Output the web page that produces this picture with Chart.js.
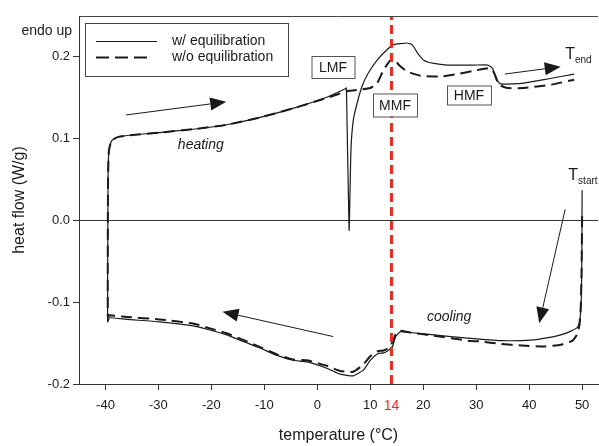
<!DOCTYPE html>
<html>
<head>
<meta charset="utf-8">
<script src="https://cdn.jsdelivr.net/npm/chart.js@4.4.0/dist/chart.umd.min.js"></script>
<style>
  html, body { margin:0; padding:0; background:#fff; }
  #wrap { width:599px; height:446px; }
</style>
</head>
<body>
<div id="wrap"><canvas id="dsc"></canvas></div>
<script>
'use strict';

// ── Data: DSC loop, cooling from T_start then heating to T_end ──────
const tempWith = [
  50.0, 49.95, 49.85, 49.6, 49.2, 48.0, 46.0, 44.7, 40.9, 34.6, 28.4, 22.0, 17.5, 15.7,
  14.8, 14.2, 13.4, 12.5, 11.4, 10.0, 8.7, 6.8, 4.3, 1.9, -1.9, -4.6, -7.6, -10.8,
  -14.0, -17.1, -20.3, -23.5, -29.8, -36.0, -39.2, -39.6,
  -39.55, -39.5, -39.35, -39.0, -38.6, -37.4, -34.9, -29.8, -23.5, -17.1, -10.8, -4.6,
  1.9, 5.3, 5.5, 6.0, 6.35, 6.8, 7.5, 8.45, 9.6, 11.3, 13.2, 14.4, 17.0, 17.9, 18.9,
  20.1, 22.0, 24.6, 29.5, 32.2, 33.1, 33.7, 34.6, 39.0, 43.5, 48.5
];
const flowWith = [
  0.037, -0.040, -0.095, -0.120, -0.130, -0.135, -0.140, -0.142, -0.146, -0.147, -0.144, -0.140, -0.137, -0.136,
  -0.142, -0.154, -0.159, -0.162, -0.163, -0.171, -0.183, -0.190, -0.188, -0.181, -0.173, -0.171, -0.165, -0.156,
  -0.148, -0.140, -0.134, -0.129, -0.124, -0.121, -0.119, -0.124,
  0.000, 0.060, 0.085, 0.095, 0.099, 0.1025, 0.1045, 0.1075, 0.1115, 0.117, 0.126, 0.137,
  0.151, 0.161, 0.162, -0.012, 0.086, 0.123, 0.143, 0.164, 0.180, 0.196, 0.209, 0.215, 0.217, 0.215, 0.205,
  0.196, 0.192, 0.190, 0.190, 0.190, 0.186, 0.174, 0.167, 0.168, 0.173, 0.179
];

const tempWithout = [
  50.0, 49.9, 49.75, 49.5, 49.0, 48.2, 46.0, 42.9, 38.6, 34.6, 30.8, 28.4, 22.0, 17.5, 15.7,
  14.8, 14.2, 13.4, 12.5, 11.4, 10.0, 8.7, 6.8, 4.3, 1.9, -1.9, -4.6, -7.6, -10.8,
  -14.0, -17.1, -20.3, -23.5, -29.8, -36.0, -39.2, -39.55,
  -39.55, -39.5, -39.35, -39.0, -38.6, -37.4, -34.9, -29.8, -23.5, -17.1, -10.8, -4.6,
  1.9, 5.6, 8.1, 10.0, 11.3, 12.5, 13.8, 14.6, 15.4, 17.0, 19.5, 23.3, 26.5, 29.5,
  32.2, 33.0, 33.5, 34.3, 35.9, 39.0, 44.1, 48.5
];
const flowWithout = [
  0.005, -0.060, -0.105, -0.128, -0.140, -0.147, -0.152, -0.154, -0.153, -0.151, -0.148, -0.147, -0.141, -0.137, -0.135,
  -0.139, -0.149, -0.156, -0.159, -0.160, -0.166, -0.176, -0.185, -0.184, -0.178, -0.171, -0.170, -0.164, -0.155,
  -0.146, -0.138, -0.132, -0.126, -0.121, -0.118, -0.116, -0.118,
  0.000, 0.060, 0.085, 0.095, 0.099, 0.1025, 0.1045, 0.1075, 0.1115, 0.117, 0.126, 0.137,
  0.150, 0.158, 0.160, 0.162, 0.168, 0.184, 0.196, 0.197, 0.190, 0.182, 0.177, 0.176, 0.179, 0.183,
  0.186, 0.184, 0.179, 0.166, 0.162, 0.162, 0.166, 0.172
];

const xTicks = [-40, -30, -20, -10, 0, 10, 20, 30, 40, 50];
const yTicks = [-0.2, -0.1, 0.0, 0.1, 0.2];
const markTemp = 14;

// ── Annotations (data coordinates) ─────────────────────────────────
const boxes = [
  { text:'LMF', t:3.0,  hf:0.188, w:43, h:22 },
  { text:'MMF', t:14.7, hf:0.141, w:44, h:23 },
  { text:'HMF', t:28.6, hf:0.154, w:44, h:19 }
];
const arrows = [
  [-36.1, 0.129, -17.2, 0.145],
  [35.4, 0.179, 45.96, 0.188],
  [46.8, 0.0136, 41.9, -0.1258],
  [3.0, -0.142, -17.9, -0.1116]
];

const FONT = '"Liberation Sans", Arial, sans-serif';
const RED = '#ee2a24';
const INK = '#1a1a1a';

const pts = (xs, ys) => xs.map((x, i) => ({ x, y: ys[i] }));

const notes = {
  id: 'notes',
  afterDatasetsDraw(chart) {
    const { ctx, chartArea: a, scales: { x, y } } = chart;
    ctx.save();

    // top frame line
    ctx.strokeStyle = '#444'; ctx.lineWidth = 1;
    ctx.beginPath(); ctx.moveTo(a.left, a.top + 0.5); ctx.lineTo(a.right, a.top + 0.5); ctx.stroke();

    // arrows
    ctx.fillStyle = INK; ctx.strokeStyle = INK; ctx.lineWidth = 1;
    arrows.forEach(([t0, h0, t1, h1]) => {
      const x0 = x.getPixelForValue(t0), y0 = y.getPixelForValue(h0);
      const x1 = x.getPixelForValue(t1), y1 = y.getPixelForValue(h1);
      const ang = Math.atan2(y1 - y0, x1 - x0), L = 16, W = 6.5;
      const bx = x1 - L * Math.cos(ang), by = y1 - L * Math.sin(ang);
      ctx.beginPath(); ctx.moveTo(x0, y0); ctx.lineTo(bx, by); ctx.stroke();
      ctx.beginPath();
      ctx.moveTo(x1, y1);
      ctx.lineTo(bx + W * Math.sin(ang), by - W * Math.cos(ang));
      ctx.lineTo(bx - W * Math.sin(ang), by + W * Math.cos(ang));
      ctx.closePath(); ctx.fill();
    });

    // labelled boxes
    ctx.font = '14px ' + FONT; ctx.textAlign = 'center'; ctx.textBaseline = 'middle';
    boxes.forEach(b => {
      const cx = Math.round(x.getPixelForValue(b.t)), cy = Math.round(y.getPixelForValue(b.hf));
      const l = cx - b.w / 2, t = cy - b.h / 2;
      ctx.fillStyle = '#fff'; ctx.fillRect(l, t, b.w, b.h);
      ctx.strokeStyle = '#555'; ctx.strokeRect(l + 0.5, t + 0.5, b.w, b.h);
      ctx.fillStyle = INK; ctx.fillText(b.text, cx, cy + 1);
    });

    // italic process labels
    ctx.font = 'italic 14px ' + FONT;
    ctx.fillText('heating', x.getPixelForValue(-22.0), y.getPixelForValue(0.092));
    ctx.fillText('cooling', x.getPixelForValue(24.9), y.getPixelForValue(-0.118));

    // T_end / T_start
    ctx.textAlign = 'left'; ctx.textBaseline = 'alphabetic';
    [['end', 46.8, 0.198], ['start', 47.4, 0.049]].forEach(([sub, t, hf]) => {
      const px = x.getPixelForValue(t), py = y.getPixelForValue(hf);
      ctx.font = '16px ' + FONT; ctx.fillText('T', px, py);
      const w = ctx.measureText('T').width;
      ctx.font = '10px ' + FONT; ctx.fillText(sub, px + w, py + 4);
    });

    // endo up
    ctx.font = '14px ' + FONT; ctx.textAlign = 'right'; ctx.textBaseline = 'middle';
    ctx.fillText('endo up', a.left - 7, a.top + 15);

    // legend inside the plot
    const lx = a.left + 6, ly = a.top + 7;
    ctx.fillStyle = '#fff'; ctx.fillRect(lx, ly, 203, 53);
    ctx.strokeStyle = '#444'; ctx.strokeRect(lx + 0.5, ly + 0.5, 203, 53);
    ctx.strokeStyle = INK;
    ctx.lineWidth = 1.2;
    ctx.beginPath(); ctx.moveTo(lx + 11, ly + 18.5); ctx.lineTo(lx + 72, ly + 18.5); ctx.stroke();
    ctx.lineWidth = 2; ctx.setLineDash([13, 6]);
    ctx.beginPath(); ctx.moveTo(lx + 11, ly + 34.5); ctx.lineTo(lx + 68, ly + 34.5); ctx.stroke();
    ctx.setLineDash([]);
    ctx.fillStyle = INK; ctx.textAlign = 'left';
    ctx.fillText(chart.data.datasets[1].label, lx + 87, ly + 18);
    ctx.fillText(chart.data.datasets[2].label, lx + 87, ly + 34);

    ctx.restore();
  }
};

new Chart(document.getElementById('dsc'), {
  type: 'scatter',
  data: {
    datasets: [
      { label:'14 °C', data:[{ x:markTemp, y:-0.2 }, { x:markTemp, y:0.25 }], showLine:true,
        borderColor:RED, borderWidth:3, borderDash:[9,5], pointRadius:0, order:0 },
      { label:'w/ equilibration', data:pts(tempWith, flowWith), showLine:true,
        borderColor:INK, borderWidth:1.2, pointRadius:0, tension:0.15, order:2 },
      { label:'w/o equilibration', data:pts(tempWithout, flowWithout), showLine:true,
        borderColor:INK, borderWidth:2, borderDash:[11,6], pointRadius:0, tension:0.15, order:1 }
    ]
  },
  options: {
    responsive:true, maintainAspectRatio:false, animation:false, events:[],
    layout:{ padding:{ top:16, right:1, left:0, bottom:0 } },
    plugins:{ legend:{ display:false }, tooltip:{ enabled:false } },
    scales:{
      x:{
        type:'linear', min:-45, max:53,
        afterBuildTicks: s => { s.ticks = xTicks.concat(markTemp).sort((p, q) => p - q).map(v => ({ value:v })); },
        afterFit: s => { s.height = 62; },
        grid:{ drawOnChartArea:false, tickLength:6,
          tickColor: c => (c.tick && c.tick.value === markTemp) ? 'rgba(0,0,0,0)' : '#333' },
        border:{ color:'#333', width:1 },
        ticks:{ autoSkip:false, maxRotation:0, padding:8,
          color: c => (c.tick && c.tick.value === markTemp) ? RED : INK,
          font: c => ({ family:FONT, size:(c.tick && c.tick.value === markTemp) ? 14 : 13 }),
          callback: v => String(v) },
        title:{ display:true, text:'temperature (°C)', color:INK, font:{ family:FONT, size:16 }, padding:{ top:0, bottom:1 } }
      },
      y:{
        min:-0.2, max:0.25,
        afterBuildTicks: s => { s.ticks = yTicks.map(v => ({ value:v })); },
        afterFit: s => { s.width = 79; },
        grid:{ tickLength:6, tickColor:'#333', lineWidth:1,
          color: c => (c.tick && c.tick.value === 0) ? '#333' : 'rgba(0,0,0,0)' },
        border:{ color:'#333', width:1 },
        ticks:{ padding:3, color:INK, font:{ family:FONT, size:13 }, callback: v => v.toFixed(1) },
        title:{ display:true, text:'heat flow (W/g)', color:INK, font:{ family:FONT, size:16 }, padding:{ top:10, bottom:0 } }
      }
    }
  },
  plugins:[notes]
});
</script>
</body>
</html>
